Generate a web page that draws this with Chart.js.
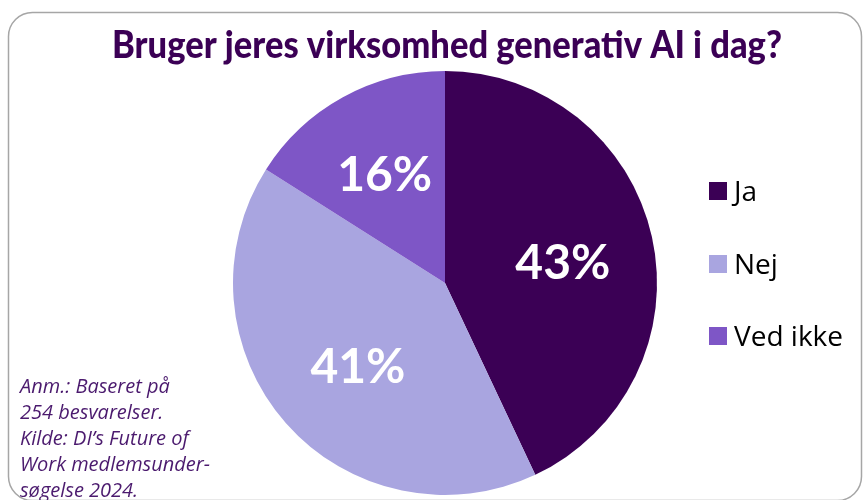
<!DOCTYPE html>
<html>
<head>
<meta charset="utf-8">
<script src="https://cdn.jsdelivr.net/npm/chart.js@4"></script>
<style>
  html, body { margin: 0; padding: 0; background: #fff; }
  #wrap { width: 867px; height: 500px; position: relative; }
</style>
</head>
<body>
<div id="wrap"><canvas id="pie" width="867" height="500"></canvas></div>
<script>
// Data
const categories = ['Ja', 'Nej', 'Ved ikke'];
const shares = [43, 41, 16];
const sliceColors = ['#3B0055', '#A9A5E0', '#7E56C6'];
const titleText = 'Bruger jeres virksomhed generativ AI i dag?';
const noteLines = ['Anm.: Baseret på', '254 besvarelser.', 'Kilde: DI’s Future of', 'Work medlemsunder-', 'søgelse 2024.'];

// frame, title, legend and note are drawn by hand
const decorPlugin = {
  id: 'decor',
  beforeDraw(chart) {
    const ctx = chart.ctx;
    ctx.save();
    ctx.strokeStyle = '#A6A6A6';
    ctx.lineWidth = 1.5;
    ctx.beginPath();
    ctx.roundRect(8.5, 12.5, 853, 488, 24);
    ctx.stroke();
    ctx.restore();
  },
  afterDraw(chart) {
    const ctx = chart.ctx;
    ctx.save();
    // title
    ctx.fillStyle = '#3B0055';
    ctx.font = '900 37px Lato';
    ctx.textAlign = 'center';
    ctx.textBaseline = 'middle';
    ctx.fillText(titleText, 447, 46, 670);

    // labels on slices
    const meta = chart.getDatasetMeta(0);
    ctx.fillStyle = '#fff';
    ctx.font = 'bold 48px Lato';
    meta.data.forEach((arc, i) => {
      const p = arc.tooltipPosition();
      const cx = arc.x, cy = arc.y;
      // label sits a bit further out than the default
      const dx = p.x - cx, dy = p.y - cy;
      const k = i === 2 ? 1.22 : 1.12;
      ctx.fillText(shares[i] + '%', cx + dx * k + 2, cy + dy * k + 6);
    });

    // legend
    const legendY = [191, 264, 336];
    ctx.textAlign = 'left';
    ctx.font = '28px "Open Sans"';
    categories.forEach((c, i) => {
      ctx.fillStyle = sliceColors[i];
      ctx.fillRect(709, legendY[i] - 9, 18, 18);
      ctx.fillStyle = '#000';
      ctx.fillText(c, 734, legendY[i] + 2);
    });

    // note
    ctx.fillStyle = '#4B1A6E';
    ctx.font = 'italic 20px "Open Sans"';
    noteLines.forEach((l, i) => {
      ctx.fillText(l, 20, 387 + i * 26);
    });
    ctx.restore();
  }
};

new Chart(document.getElementById('pie'), {
  type: 'pie',
  data: {
    labels: categories,
    datasets: [{
      data: shares,
      backgroundColor: sliceColors,
      borderWidth: 0
    }]
  },
  options: {
    responsive: false,
    animation: false,
    layout: { padding: { left: 233, right: 210, top: 71, bottom: 5 } },
    plugins: {
      legend: { display: false },
      title: { display: false },
      tooltip: { enabled: false }
    }
  },
  plugins: [decorPlugin]
});
</script>
</body>
</html>
